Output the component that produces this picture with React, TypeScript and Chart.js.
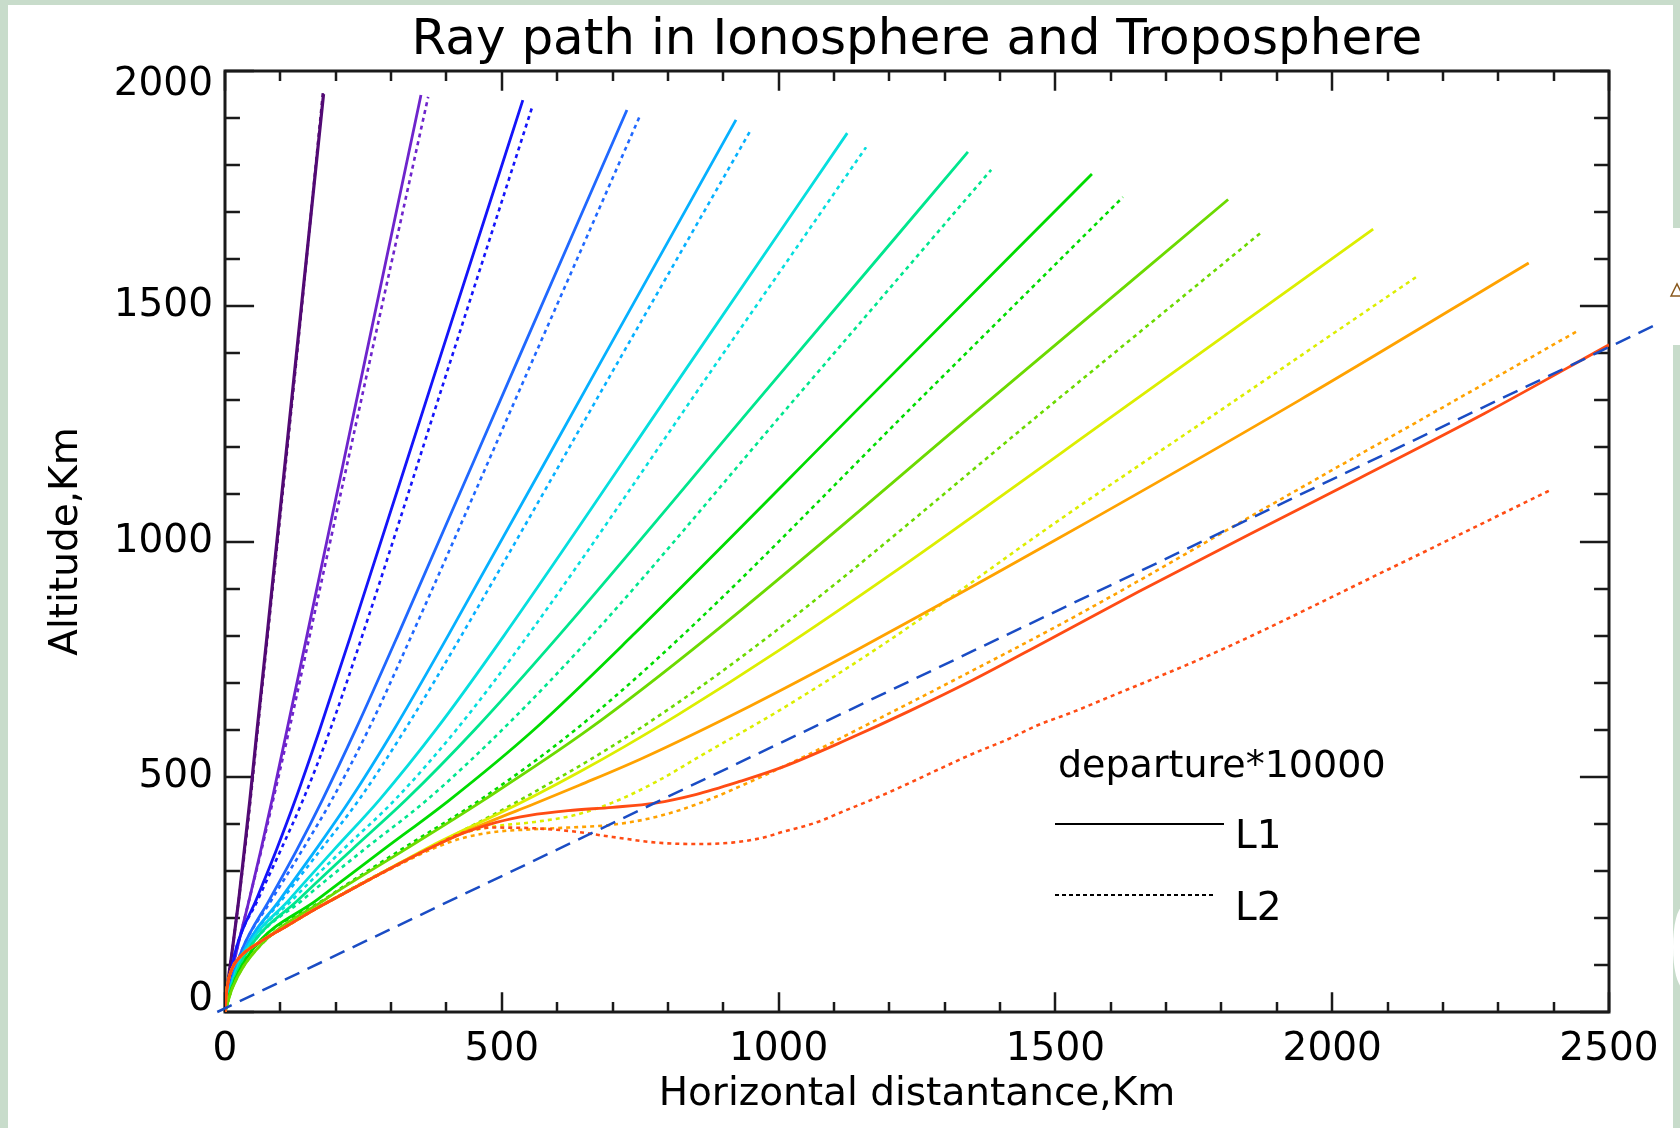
import { useEffect, useRef } from 'react';
import { Chart, registerables } from 'chart.js';

Chart.register(...registerables);

const FONT = 'DejaVu Sans';
const TITLE = 'Ray path in Ionosphere and Troposphere';
const X_TITLE = 'Horizontal distantance,Km';
const Y_TITLE = 'Altitude,Km';
const LEGEND_TITLE = 'departure*10000';
const LEGEND_L1 = 'L1';
const LEGEND_L2 = 'L2';

const X_MIN = 0;
const X_MAX = 2500;
const X_MAJOR = 500;
const X_MINOR = 100;
const Y_MIN = 0;
const Y_MAX = 2000;
const Y_MAJOR = 500;
const Y_MINOR = 100;

// Ray paths, [horizontal km, altitude km]; L1 solid, L2 dotted
const RAY01_L1 = [[0, 0], [4, 50], [13, 130], [25, 240], [35, 345], [45, 451], [58, 600], [76, 800], [128, 1386], [178, 1951]];
const RAY01_L2 = [[0, 0], [4, 50], [13, 130], [25, 240], [36, 345], [46, 451], [59, 600], [77, 800], [129, 1386], [177, 1955]];
const RAY02_L1 = [[0, 0], [6, 50], [21, 130], [44, 240], [65, 345], [85, 451], [112, 600], [148, 800], [253, 1386], [354, 1949]];
const RAY02_L2 = [[0, 0], [6, 50], [21, 130], [44, 240], [66, 345], [87, 451], [116, 600], [153, 800], [262, 1386], [367, 1945]];
const RAY03_L1 = [[0, 0], [6, 50], [19, 130], [57, 240], [93, 345], [127, 451], [171, 600], [227, 800], [387, 1386], [538, 1938]];
const RAY03_L2 = [[0, 0], [6, 50], [19, 130], [60, 240], [101, 345], [141, 451], [190, 600], [248, 800], [408, 1386], [555, 1924]];
const RAY04_L1 = [[0, 0], [8, 50], [30, 130], [81, 240], [130, 345], [176, 451], [236, 600], [312, 800], [529, 1386], [726, 1917]];
const RAY04_L2 = [[0, 0], [8, 50], [30, 130], [85, 240], [140, 345], [193, 451], [259, 600], [337, 800], [556, 1386], [750, 1906]];
const RAY05_L1 = [[0, 0], [9, 50], [34, 130], [100, 240], [164, 345], [226, 451], [305, 600], [403, 800], [681, 1386], [923, 1896]];
const RAY05_L2 = [[0, 0], [9, 50], [34, 130], [104, 240], [173, 345], [242, 451], [325, 600], [427, 800], [712, 1386], [950, 1875]];
const RAY06_L1 = [[0, 0], [10, 50], [37, 130], [117, 240], [197, 345], [279, 451], [381, 600], [504, 800], [844, 1386], [1124, 1868]];
const RAY06_L2 = [[0, 0], [10, 50], [37, 130], [123, 240], [213, 345], [307, 451], [418, 600], [547, 800], [892, 1386], [1158, 1838]];
const RAY07_L1 = [[0, 0], [11, 50], [41, 130], [134, 240], [229, 345], [327, 451], [451, 600], [603, 800], [963, 1301], [1342, 1828]];
const RAY07_L2 = [[0, 0], [11, 50], [41, 130], [142, 240], [251, 345], [365, 451], [501, 600], [663, 800], [1028, 1301], [1384, 1790]];
const RAY08_L1 = [[0, 0], [12, 50], [48, 130], [168, 240], [286, 345], [406, 451], [558, 600], [736, 800], [1160, 1301], [1566, 1781]];
const RAY08_L2 = [[0, 0], [12, 50], [48, 130], [180, 240], [318, 345], [461, 451], [633, 600], [826, 800], [1254, 1301], [1622, 1732]];
const RAY09_L1 = [[0, 0], [13, 50], [55, 130], [182, 240], [325, 345], [468, 451], [656, 600], [876, 800], [1382, 1301], [1812, 1727]];
const RAY09_L2 = [[0, 0], [13, 50], [55, 130], [196, 240], [363, 345], [534, 451], [746, 600], [984, 800], [1503, 1301], [1875, 1660]];
const RAY10_L1 = [[0, 0], [3, 45], [12, 90], [28, 118], [66, 151], [116, 186], [166, 221], [216, 253], [266, 285], [316, 317], [371, 352], [430, 386], [490, 419], [560, 460], [640, 510], [720, 563], [820, 633], [1000, 768], [1200, 928], [1644, 1301], [2074, 1664]];
const RAY10_L2 = [[0, 0], [3, 45], [12, 90], [28, 118], [66, 151], [116, 186], [166, 221], [216, 253], [266, 285], [316, 316], [371, 349], [430, 380], [490, 395], [560, 404], [630, 418], [700, 445], [780, 490], [860, 545], [1000, 640], [1200, 790], [1500, 1040], [1826, 1301], [2154, 1564]];
const RAY11_L1 = [[0, 0], [3, 45], [12, 90], [28, 118], [66, 151], [116, 186], [166, 221], [216, 253], [266, 285], [316, 316], [371, 349], [430, 381], [489, 410], [560, 443], [640, 482], [755, 540], [948, 650], [1142, 770], [1500, 1003], [1942, 1301], [2355, 1592]];
const RAY11_L2 = [[0, 0], [3, 45], [12, 90], [28, 118], [66, 151], [116, 186], [166, 221], [216, 253], [266, 284], [316, 314], [371, 345], [430, 370], [490, 383], [550, 388], [620, 392], [700, 398], [780, 415], [860, 445], [950, 490], [1050, 545], [1142, 600], [1300, 695], [1542, 845], [1900, 1085], [2444, 1448]];
const RAY12_L1 = [[0, 0], [3, 45], [12, 90], [27, 117], [65, 150], [115, 185], [165, 220], [215, 252], [265, 284], [315, 315], [370, 348], [430, 380], [490, 403], [550, 418], [620, 428], [700, 435], [777, 444], [850, 462], [930, 490], [1008, 521], [1122, 578], [1237, 640], [1350, 705], [1480, 786], [1650, 893], [1850, 1015], [2050, 1135], [2275, 1272], [2500, 1418]];
const RAY12_L2 = [[0, 0], [3, 45], [12, 90], [27, 117], [65, 150], [115, 185], [165, 220], [215, 252], [265, 284], [315, 315], [370, 348], [430, 381], [480, 392], [547, 391], [620, 385], [700, 372], [780, 360], [850, 357], [916, 360], [970, 370], [1008, 383], [1066, 402], [1122, 429], [1180, 457], [1237, 487], [1295, 519], [1353, 550], [1411, 578], [1469, 610], [1526, 635], [1584, 663], [1800, 770], [2100, 940], [2392, 1108]];

// Straight line of sight from the station
const LINE_OF_SIGHT = [[-14, 0], [2587, 1462]];

const RAY_COLORS = ['#520a74', '#6e24cc', '#1414fa', '#2068ff', '#06b0ff', '#06dede', '#00e68e', '#00dc00', '#6cda00', '#dcee00', '#ffa200', '#ff4c14'];
const RAYS_L1 = [RAY01_L1, RAY02_L1, RAY03_L1, RAY04_L1, RAY05_L1, RAY06_L1, RAY07_L1, RAY08_L1, RAY09_L1, RAY10_L1, RAY11_L1, RAY12_L1];
const RAYS_L2 = [RAY01_L2, RAY02_L2, RAY03_L2, RAY04_L2, RAY05_L2, RAY06_L2, RAY07_L2, RAY08_L2, RAY09_L2, RAY10_L2, RAY11_L2, RAY12_L2];
const LOS_COLOR = '#1a4cc4';

const toPoints = (arr: number[][]) => arr.map(([x, y]) => ({ x, y }));

const pageBackground = {
  id: 'pageBackground',
  beforeDraw(chart: any) {
    const { ctx, width, height } = chart;
    ctx.save();
    ctx.fillStyle = '#c8dccb';
    ctx.fillRect(0, 0, width, height);
    ctx.fillStyle = '#ffffff';
    ctx.fillRect(8, 5, 1665, height - 5);
    ctx.fillRect(1673, 228, 7, 117);
    ctx.beginPath();
    ctx.ellipse(1683, 947, 10, 40, 0, 0, Math.PI * 2);
    ctx.fill();
    ctx.strokeStyle = '#8a5a1e';
    ctx.lineWidth = 1.5;
    ctx.beginPath();
    ctx.moveTo(1671, 296);
    ctx.lineTo(1677, 284);
    ctx.lineTo(1683, 296);
    ctx.closePath();
    ctx.stroke();
    ctx.restore();
  },
};

// Keeps the end labels of the altitude axis inside the frame
const clampYLabels = {
  id: 'clampYLabels',
  beforeDraw(chart: any) {
    const y = chart.scales.y;
    const items = y.getLabelItems();
    const { top, bottom } = chart.chartArea;
    for (const item of items) {
      const t = item.options.translation;
      if (t[1] < top + 14) t[1] = top + 14;
      if (t[1] > bottom - 12) t[1] = bottom - 12;
    }
  },
};

// Box frame with inward major and minor ticks on all four sides
const frameTicks = {
  id: 'frameTicks',
  beforeDatasetsDraw(chart: any) {
    const { ctx, chartArea, scales } = chart;
    const { left, right, top, bottom } = chartArea;
    const h = bottom - top;
    const w = right - left;
    ctx.save();
    ctx.strokeStyle = '#1a1a1a';
    ctx.lineWidth = 2.5;
    ctx.lineCap = 'butt';
    ctx.beginPath();
    for (let v = X_MIN; v <= X_MAX; v += X_MINOR) {
      const px = Math.round(scales.x.getPixelForValue(v));
      const len = v % X_MAJOR === 0 ? h * 0.021 : h * 0.0105;
      ctx.moveTo(px, bottom);
      ctx.lineTo(px, bottom - len);
      ctx.moveTo(px, top);
      ctx.lineTo(px, top + len);
    }
    for (let v = Y_MIN; v <= Y_MAX; v += Y_MINOR) {
      const py = Math.round(scales.y.getPixelForValue(v));
      const len = v % Y_MAJOR === 0 ? w * 0.021 : w * 0.0108;
      ctx.moveTo(left, py);
      ctx.lineTo(left + len, py);
      ctx.moveTo(right, py);
      ctx.lineTo(right - len, py);
    }
    ctx.stroke();
    ctx.lineWidth = 3;
    ctx.strokeRect(left, top, w, h);
    ctx.restore();
  },
};

const legendBox = {
  id: 'legendBox',
  afterDraw(chart: any) {
    const { ctx, chartArea } = chart;
    const x0 = chartArea.left + 830;
    const y0 = chartArea.top;
    ctx.save();
    ctx.fillStyle = '#000';
    ctx.font = `38px "${FONT}"`;
    ctx.textBaseline = 'alphabetic';
    ctx.textAlign = 'left';
    ctx.fillText(LEGEND_TITLE, x0 + 3, y0 + 706);
    ctx.font = `39px "${FONT}"`;
    ctx.fillText(LEGEND_L1, x0 + 180, y0 + 777);
    ctx.fillText(LEGEND_L2, x0 + 180, y0 + 849);
    ctx.strokeStyle = '#000';
    ctx.lineWidth = 2;
    ctx.beginPath();
    ctx.moveTo(x0, y0 + 753);
    ctx.lineTo(x0 + 169, y0 + 753);
    ctx.stroke();
    ctx.setLineDash([4, 3]);
    ctx.beginPath();
    ctx.moveTo(x0, y0 + 824);
    ctx.lineTo(x0 + 160, y0 + 824);
    ctx.stroke();
    ctx.restore();
  },
};

export default function App() {
  const canvasRef = useRef<HTMLCanvasElement | null>(null);

  useEffect(() => {
    if (!canvasRef.current) return;
    const datasets: any[] = [];
    datasets.push({
      data: toPoints(LINE_OF_SIGHT),
      showLine: true,
      borderColor: LOS_COLOR,
      borderWidth: 2.5,
      borderDash: [16, 9],
      pointRadius: [5, 0],
      pointBackgroundColor: LOS_COLOR,
      pointBorderWidth: 0,
      clip: false,
      order: 0,
    });
    for (let i = RAYS_L1.length - 1; i >= 0; i--) {
      const order = (RAYS_L1.length - i) * 2;
      datasets.push({
        data: toPoints(RAYS_L1[i]),
        showLine: true,
        borderColor: RAY_COLORS[i],
        borderWidth: i === 0 ? 3.2 : 2.8,
        pointRadius: 0,
        cubicInterpolationMode: 'monotone',
        order,
      });
      datasets.push({
        data: toPoints(RAYS_L2[i]),
        showLine: true,
        borderColor: RAY_COLORS[i],
        borderWidth: 2.6,
        borderDash: [4, 4],
        pointRadius: 0,
        cubicInterpolationMode: 'monotone',
        order: order + 1,
      });
    }

    const tickFont = { family: FONT, size: 39, weight: 'normal' as const };
    const plainNumber = (v: any) => String(v);
    const chart = new Chart(canvasRef.current, {
      type: 'scatter',
      data: { datasets },
      options: {
        animation: false,
        responsive: false,
        devicePixelRatio: 1,
        layout: { padding: { left: 0, right: 71, top: 0, bottom: 0 } },
        plugins: {
          legend: { display: false },
          tooltip: { enabled: false },
          title: {
            display: true,
            fullSize: false,
            text: TITLE,
            color: '#000',
            font: { family: FONT, size: 50, weight: 'normal' },
            padding: { top: 11, bottom: 0 },
          },
        },
        scales: {
          x: {
            type: 'linear',
            min: X_MIN,
            max: X_MAX,
            ticks: { stepSize: X_MAJOR, color: '#000', font: tickFont, padding: 14, maxRotation: 0, autoSkip: false, callback: plainNumber },
            grid: { display: false, drawTicks: false },
            border: { display: false },
            title: { display: true, text: X_TITLE, color: '#000', font: tickFont, padding: { top: 0, bottom: 10 } },
            afterFit: (s: any) => { s.height = 116; },
          },
          y: {
            type: 'linear',
            min: Y_MIN,
            max: Y_MAX,
            ticks: { stepSize: Y_MAJOR, color: '#000', font: tickFont, padding: 12, autoSkip: false, callback: plainNumber },
            grid: { display: false, drawTicks: false },
            border: { display: false },
            title: { display: true, text: Y_TITLE, color: '#000', font: tickFont, padding: { top: 43, bottom: 0 } },
            afterFit: (s: any) => { s.width = 225; },
          },
        },
      },
      plugins: [pageBackground, clampYLabels, frameTicks, legendBox],
    });
    return () => chart.destroy();
  }, []);

  return (
    <div style={{ position: 'fixed', left: 0, top: 0, width: 1680, height: 1128 }}>
      <canvas ref={canvasRef} width={1680} height={1128} style={{ width: 1680, height: 1128, display: 'block' }} />
    </div>
  );
}
